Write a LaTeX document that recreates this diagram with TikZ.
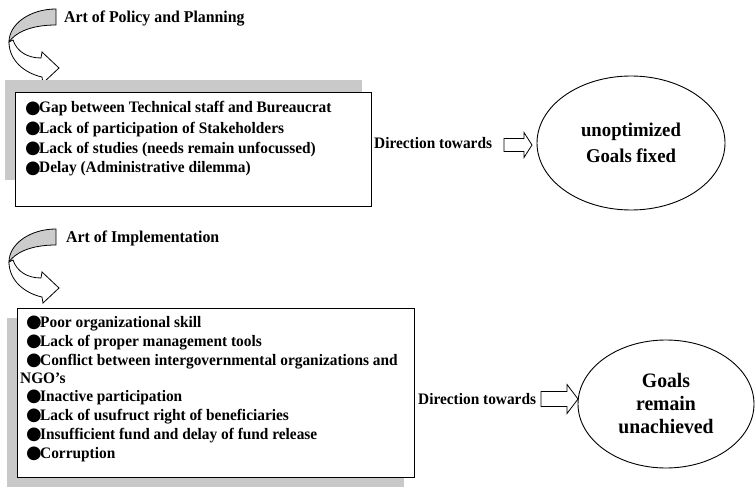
\documentclass[tikz,border=0pt]{standalone}
\usepackage{fontspec}
\setmainfont[FakeStretch=0.96]{Liberation Serif}
\newfontfamily\symfont{DejaVu Sans}
\usetikzlibrary{shapes.geometric}

% bullet glyph followed by a fixed gap before the item text
\newcommand\blt{\makebox[14pt][l]{\raisebox{-0.5pt}{\fontsize{18pt}{18pt}\symfont ●}}}

\tikzset{
  shadebox/.style={fill=gray!42, draw=none, inner sep=0pt, anchor=north west},
  panel/.style={draw=black, line width=1.2pt, fill=white, inner sep=0pt, anchor=north west},
  item/.style={font=\bfseries\fontsize{16pt}{20pt}\selectfont, inner sep=0pt, anchor=base west},
  heading/.style={font=\bfseries\fontsize{16.5pt}{20pt}\selectfont, inner sep=0pt, anchor=base west},
  goal/.style={ellipse, draw=black, line width=0.9pt, align=center, inner sep=0pt},
  blockarrow/.pic={
    \draw[line width=0.8pt, fill=white]
      (0,-6.5) -- (20,-6.5) -- (20,-12.5) -- (28,0) -- (20,12.5) -- (20,6.5) -- (0,6.5) -- cycle;
  },
  bigblockarrow/.pic={
    \draw[line width=0.8pt, fill=white]
      (0,-7.5) -- (26,-7.5) -- (26,-14.5) -- (37,0) -- (26,14.5) -- (26,7.5) -- (0,7.5) -- cycle;
  },
  curlarrow/.pic={
    % back face of the ribbon
    \draw[line width=0.8pt, fill=gray!40]
      (56,9) .. controls (30,9) and (9,24) .. (9,42)
      .. controls (15,33) and (30,25) .. (56,25) -- cycle;
    % front face of the ribbon with its head
    \draw[line width=0.8pt, fill=white]
      (9,42) .. controls (9,60) and (24,73) .. (42,77)
      -- (43,83) -- (59,68) -- (42,52) -- (41,58)
      .. controls (28,58) and (17,52) .. (13,40) -- cycle;
  }
}

\begin{document}
\begin{tikzpicture}[x=1pt,y=-1pt]
\useasboundingbox (0,0) rectangle (755,497);

% ---------- policy and planning ----------
\pic at (0,0) {curlarrow};
\node[heading] (t1) at (64,23) {Art of Policy and Planning};

\node[shadebox, minimum width=357pt, minimum height=100pt] (s1) at (5,80) {};
\node[panel, minimum width=356pt, minimum height=114pt] (b1) at (15,92) {};
\node[item] (a1) at (25,113)   {\blt Gap between Technical staff and Bureaucrat};
\node[item] (a2) at (25,133.5) {\blt Lack of participation of Stakeholders};
\node[item] (a3) at (25,153.5) {\blt Lack of studies (needs remain unfocussed)};
\node[item] (a4) at (25,173)   {\blt Delay (Administrative dilemma)};

\node[item] (d1) at (374,149) {Direction towards};
\pic at (504,145) {blockarrow};
\node[goal, minimum width=188pt, minimum height=134pt,
      font=\bfseries\fontsize{19.5pt}{26pt}\selectfont] (g1) at (631,143)
      {unoptimized\\Goals fixed};

% ---------- implementation ----------
\pic at (0,220) {curlarrow};
\node[heading] (t2) at (66,243) {Art of Implementation};

\node[shadebox, minimum width=397pt, minimum height=169pt] (s2) at (7,318) {};
\node[panel, minimum width=397pt, minimum height=169pt] (b2) at (17,308) {};
\node[item] (c1) at (26,327) {\blt Poor organizational skill};
\node[item] (c2) at (26,346) {\blt Lack of proper management tools};
\node[item] (c3) at (26,365) {\blt Conflict between intergovernmental organizations and};
\node[item] (c3b) at (20,383) {NGO's};
\node[item] (c4) at (26,401) {\blt Inactive participation};
\node[item] (c5) at (26,420) {\blt Lack of usufruct right of beneficiaries};
\node[item] (c6) at (26,439) {\blt Insufficient fund and delay of fund release};
\node[item] (c7) at (26,458) {\blt Corruption};

\node[item] (d2) at (418,404) {Direction towards};
\pic at (541,399) {bigblockarrow};
\node[goal, minimum width=176pt, minimum height=128pt,
      font=\bfseries\fontsize{20.5pt}{23pt}\selectfont] (g2) at (666,404)
      {Goals\\remain\\unachieved};
\end{tikzpicture}
\end{document}
